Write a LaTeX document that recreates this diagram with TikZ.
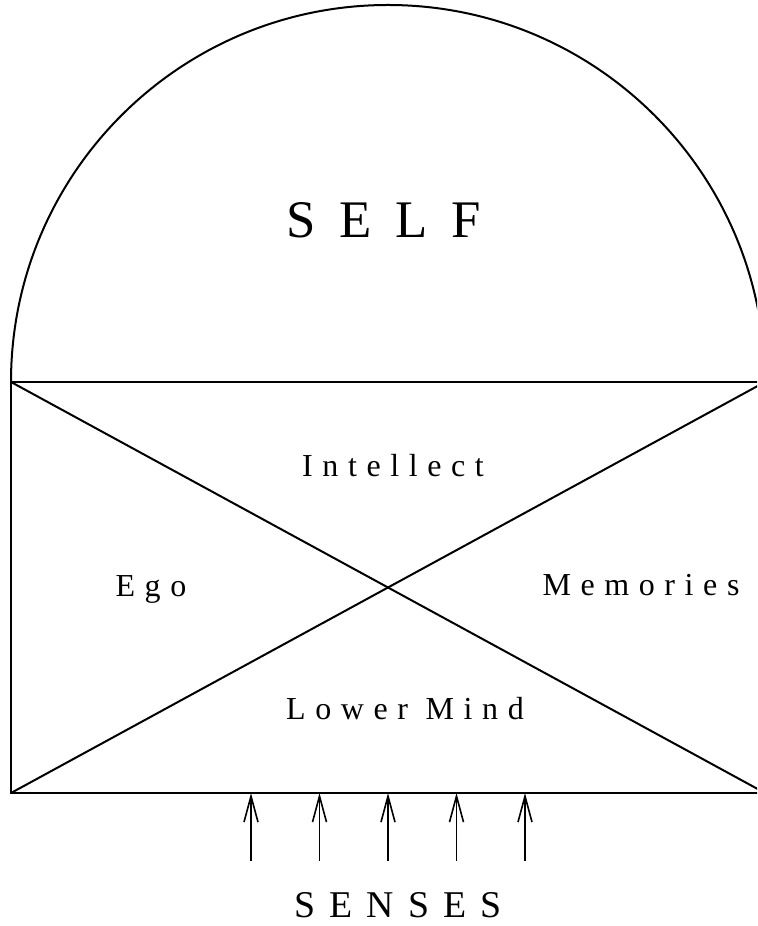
\documentclass[tikz,border=0pt]{standalone}
\usepackage{fontspec}
\setmainfont{Liberation Serif}
\usetikzlibrary{arrows.meta}

% letter-spaced text
\newcommand{\spaced}[2]{{\addfontfeature{LetterSpace=#1}#2}}

\begin{document}
\begin{tikzpicture}[x=0.5pt,y=0.5pt,
    lbl/.style={anchor=base, inner sep=0pt, font=\fontsize{16}{19}\selectfont},
    sense/.style={-{Straight Barb[length=13pt,width=7pt]}, line width=0.8pt}]
    \useasboundingbox (0,0) rectangle (757,926);
    \clip (0,0) rectangle (757,926);

    % Corners of the mind box
    \coordinate (bl) at (11,133);
    \coordinate (tl) at (11,544);
    \coordinate (br) at (765,133);
    \coordinate (tr) at (765,544);

    % Dome of the self
    \draw[line width=1pt] (tl) arc[start angle=180, end angle=0, radius=377];

    % Box and its diagonals
    \draw[line width=1pt] (bl) rectangle (tr);
    \draw[line width=1pt] (tl) -- (br);
    \draw[line width=1pt] (bl) -- (tr);

    % Labels
    \node[lbl, font=\fontsize{26.4}{30}\selectfont] (self) at (384,688) {\spaced{45}{SELF}};
    \node[lbl] (intellect) at (393,449) {\spaced{30}{Intellect}};
    \node[lbl] (ego) at (151,329) {\spaced{30}{Ego}};
    \node[lbl] (memories) at (641,330) {\spaced{30}{Memories}};
    \node[lbl] (lower) at (405,206) {\spaced{30}{Lower Mind}};
    \node[lbl, font=\fontsize{18.9}{22}\selectfont] (senses) at (398,9) {\spaced{37}{SENSES}};

    % Arrows from the senses
    \foreach \i [count=\k] in {-2,...,2} {
        \coordinate (s\k) at (388+68.5*\i,65);
        \draw[sense] (s\k) -- (s\k |- bl);
    }
\end{tikzpicture}
\end{document}
